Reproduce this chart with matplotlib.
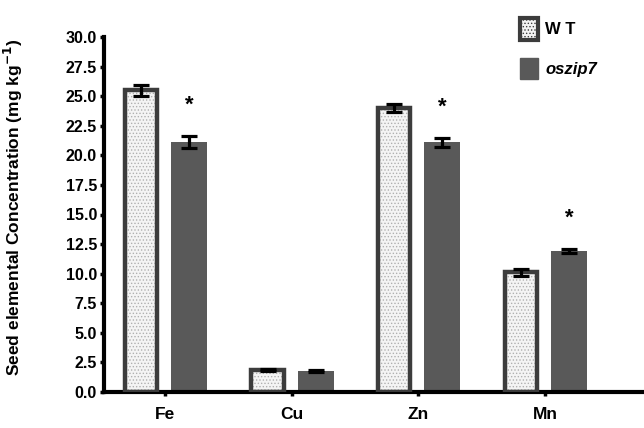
import matplotlib
matplotlib.use("Agg")
import matplotlib.pyplot as plt
import numpy as np
from matplotlib.patches import Patch

plt.rcParams['font.family'] = ['Liberation Sans', 'DejaVu Sans']
plt.rcParams['hatch.linewidth'] = 0.6

elements = ["Fe", "Cu", "Zn", "Mn"]
wt_vals = [25.5, 1.85, 24.0, 10.1]
wt_err = [0.45, 0.08, 0.35, 0.28]
mut_vals = [21.1, 1.75, 21.1, 11.9]
mut_err = [0.5, 0.08, 0.4, 0.15]
sig = [True, False, True, True]
yticks = [0.0, 2.5, 5.0, 7.5, 10.0, 12.5, 15.0, 17.5, 20.0, 22.5, 25.0, 27.5, 30.0]

fig = plt.figure(figsize=(6.44, 4.28), dpi=100)
ax = fig.add_axes([104/644, 36/428, 1 - 104/644, 355/428])

x = np.arange(len(elements))
off = 0.19
w_wt = 0.255
w_mut = 0.284

# WT: dotted fill then thick dark edge
ax.bar(x - off, wt_vals, w_wt, color='#f4f4f4', hatch='.....', edgecolor='#b0b0b0', linewidth=0, zorder=2)
ax.bar(x - off, wt_vals, w_wt, fill=False, edgecolor='#3c3c3c', linewidth=3.2, zorder=3)
ax.errorbar(x - off, wt_vals, yerr=wt_err, fmt='none', ecolor='black', elinewidth=2.3, capsize=6, capthick=2.3, zorder=4)

ax.bar(x + off, mut_vals, w_mut, color='#595959', edgecolor='#595959', linewidth=0, zorder=2)
ax.errorbar(x + off, mut_vals, yerr=mut_err, fmt='none', ecolor='black', elinewidth=2.3, capsize=6, capthick=2.3, zorder=4)

for i, s in enumerate(sig):
    if s:
        ax.text(x[i] + off, mut_vals[i] + mut_err[i] + 2.6, "*", ha='center', va='center',
                fontsize=16, fontweight='bold')

ax.set_xlim(-0.48, 3.78)
ax.set_ylim(0, 30)
ax.set_yticks(yticks)
ax.set_yticklabels([f"{v:.1f}" for v in yticks], fontsize=11.5, fontweight='bold')
ax.set_xticks(x)
ax.set_xticklabels(elements, fontsize=12.5, fontweight='bold')
ax.tick_params(axis='y', direction='out', length=3, width=2.5, pad=2)
ax.tick_params(axis='x', direction='out', length=3, width=2.5, pad=8)

for s in ['top', 'right']:
    ax.spines[s].set_visible(False)
for s in ['left', 'bottom']:
    ax.spines[s].set_linewidth(3)

ax.set_ylabel("Seed elemental Concentration (mg kg$^{\\mathbf{-1}}$)", fontsize=12.5, fontweight='bold')
ax.yaxis.set_label_coords(-0.146, 0.52)

h_wt = Patch(facecolor='#f4f4f4', edgecolor='#3c3c3c', linewidth=3, hatch='.....')
h_mut = Patch(facecolor='#595959', edgecolor='#595959')
leg = ax.legend([h_wt, h_mut], ["W T", "oszip7"], loc='upper left', bbox_to_anchor=(0.743, 1.095),
                frameon=False, fontsize=12, handlelength=1.05, handleheight=1.6, labelspacing=1.1, handletextpad=0.45)
for t in leg.get_texts():
    t.set_fontweight('bold')
leg.get_texts()[1].set_style('italic')

fig.savefig("out.png", dpi=100)
